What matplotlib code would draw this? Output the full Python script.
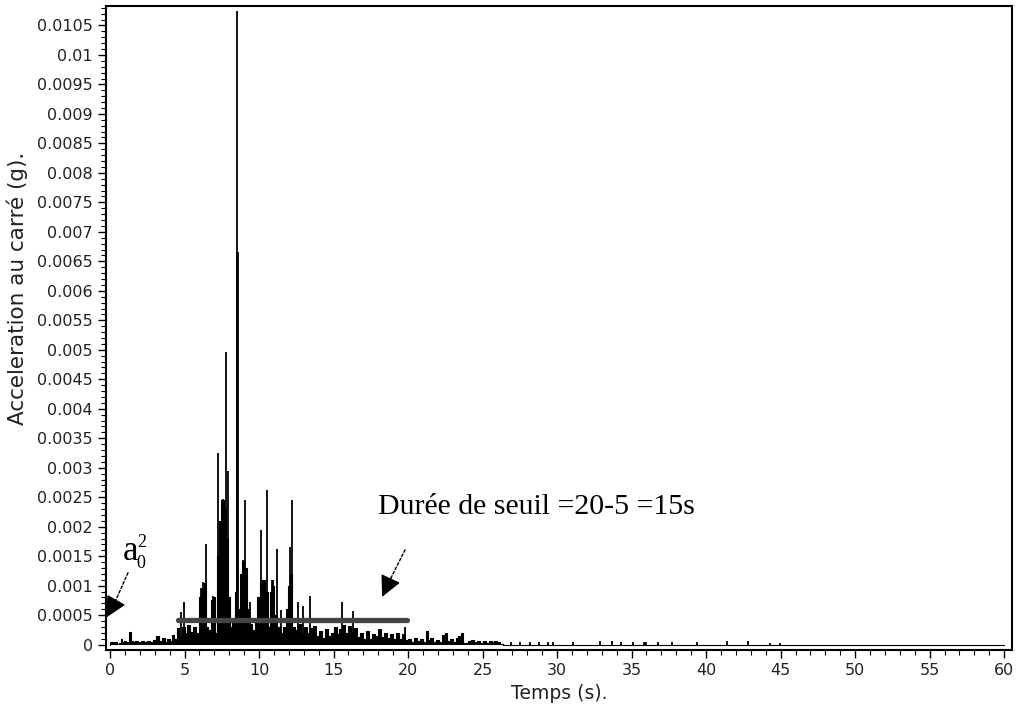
import numpy as np
import matplotlib
matplotlib.use("Agg")
from matplotlib import pyplot as plt
from matplotlib.patches import FancyArrowPatch
from matplotlib.ticker import MultipleLocator, FuncFormatter

# enveloppe du signal (partie dense), valeurs en 1e-4 g^2
t_env = [0.0, 0.05, 0.45, 0.5, 0.7, 0.78, 0.85, 1.0, 1.2, 1.34, 1.45, 1.6, 1.8, 2.0, 2.2,
         2.4, 2.6, 2.8, 3.0, 3.24, 3.4, 3.58, 3.75, 3.9, 4.1, 4.25, 4.4, 4.59, 4.7, 4.9,
         5.1, 5.3, 5.5, 5.7, 5.9, 6.05, 6.2, 6.35, 6.5, 6.7, 6.85, 7.0, 7.1, 7.25, 7.4,
         7.55, 7.7, 7.85, 7.95, 8.1, 8.3, 8.45, 8.65, 8.8, 8.95, 9.1, 9.25, 9.4, 9.6, 9.8,
         9.95, 10.15, 10.3, 10.5, 10.65, 10.8, 10.95, 11.1, 11.3, 11.5, 11.7, 11.9, 12.0,
         12.15, 12.3, 12.5, 12.7, 12.9, 13.1, 13.3, 13.5, 13.7, 13.9, 14.1, 14.3, 14.5,
         14.7, 14.9, 15.1, 15.3, 15.5, 15.7, 15.9, 16.1, 16.3, 16.5, 16.7, 16.9, 17.1,
         17.3, 17.5, 17.7, 17.9, 18.1, 18.3, 18.5, 18.7, 18.9, 19.1, 19.3, 19.5, 19.7,
         19.9, 20.1, 20.3, 20.5, 20.7, 20.9, 21.1, 21.25, 21.4, 21.6, 21.8, 22.0, 22.2,
         22.4, 22.5, 22.7, 22.9, 23.1, 23.3, 23.45, 23.6, 23.75, 23.9, 24.1, 24.3, 24.5,
         24.7, 24.9, 25.1, 25.3, 25.5, 25.7, 25.9, 26.1, 26.2, 26.5, 60.0]
a2_env = [0, 0.4, 0.4, 0.1, 0.3, 0.9, 0.4, 0.6, 0.5, 2.1, 0.7, 0.5, 0.7, 0.4, 0.6,
          0.5, 0.7, 0.5, 0.8, 1.5, 0.6, 1.1, 0.5, 1.0, 0.6, 1.7, 1.0, 2.8, 1.5, 3.0,
          2.0, 3.4, 2.2, 3.0, 2.0, 8.0, 9.5, 10.5, 3.0, 2.5, 7.5, 8.0, 2.0, 15.0, 21.0,
          24.5, 23.0, 18.0, 8.0, 3.0, 4.0, 9.0, 6.0, 12.0, 14.0, 13.0, 6.0, 3.5, 2.5, 4.0,
          8.0, 10.5, 11.0, 9.0, 3.0, 9.0, 10.0, 5.0, 3.0, 2.0, 3.0, 6.0, 10.0,
          12.0, 3.0, 2.5, 3.5, 2.0, 3.0, 2.0, 2.8, 3.2, 1.5, 2.4, 1.2, 2.6,
          1.5, 2.0, 3.0, 1.8, 2.6, 3.3, 2.0, 3.2, 2.2, 2.8, 1.3, 2.0, 1.0,
          2.4, 1.0, 1.8, 1.4, 2.6, 1.3, 2.0, 1.2, 1.8, 0.9, 2.0, 1.0, 1.8,
          0.8, 1.0, 0.5, 1.2, 0.6, 1.0, 0.5, 2.3, 0.8, 1.2, 0.5, 0.8, 0.4,
          1.6, 2.0, 0.6, 1.0, 0.4, 1.2, 1.5, 2.0, 0.3, 0.2, 0.6, 0.8, 0.4,
          0.7, 0.3, 0.6, 0.2, 0.6, 0.5, 0.7, 0.5, 0.1, 0.0, 0.0]

# pics isoles, valeurs en 1e-4 g^2
t_pk = [4.74, 4.97, 6.12, 6.27, 6.44, 6.89, 7.23, 7.56, 7.77, 7.94, 8.50, 8.53, 8.57,
        8.95, 9.04, 9.39, 10.13, 10.30, 10.52, 10.90, 10.96, 11.23, 11.50, 12.10, 12.19,
        12.60, 12.97, 13.42, 15.60, 16.29, 19.80,
        26.9, 27.5, 28.2, 28.8, 29.4, 29.7, 31.1, 32.9, 33.7, 34.3, 35.1, 35.8, 36.0,
        36.8, 37.7, 39.4, 41.4, 42.8, 44.3, 44.97]
a2_pk = [5.6, 7.2, 9.6, 10.7, 17.1, 8.2, 32.5, 24.7, 49.7, 29.5, 107.5, 66.5, 66.5,
         14.4, 24.5, 7.3, 19.5, 10.5, 26.3, 11.0, 11.0, 16.3, 5.9, 16.6, 24.5,
         7.2, 6.5, 8.2, 7.2, 5.7, 3.0,
         0.4, 0.4, 0.5, 0.4, 0.4, 0.4, 0.4, 0.6, 0.6, 0.4, 0.4, 0.4, 0.4,
         0.4, 0.4, 0.4, 0.6, 0.7, 0.3, 0.3]

seuil = 0.00041
t_debut, t_fin = 4.58, 19.95

t_env = np.array(t_env)
a2_env = np.array(a2_env) * 1e-4
t_pk = np.array(t_pk)
a2_pk = np.array(a2_pk) * 1e-4

fig = plt.figure(figsize=(10.17, 7.13), dpi=100)
ax = fig.add_axes([0.1042, 0.0884, 0.8905, 0.9032])

ax.fill_between(t_env, 0, a2_env, color="k", lw=0, step="mid")
ax.step(t_env, a2_env, where="mid", color="k", lw=0.8)
ax.vlines(t_pk, 0, a2_pk, color="k", lw=1.3)

# duree de seuil
ax.hlines(seuil, t_debut, t_fin, color="#444444", lw=3.8, capstyle="round", zorder=3)

ax.set_xlim(-0.27, 60.5)
ax.set_ylim(-0.00009, 0.01083)

ax.xaxis.set_major_locator(MultipleLocator(5))
ax.xaxis.set_minor_locator(MultipleLocator(1))
ax.yaxis.set_major_locator(MultipleLocator(0.0005))
ax.yaxis.set_minor_locator(MultipleLocator(0.0001))
ax.yaxis.set_major_formatter(FuncFormatter(lambda v, p: "0" if abs(v) < 1e-9 else "{:g}".format(round(v, 5))))

ax.tick_params(which="major", direction="out", length=6, width=1, labelsize=11.5,
               labelcolor="#222222")
ax.tick_params(which="minor", direction="out", length=3.5, width=0.8)
for s in ax.spines.values():
    s.set_linewidth(1.5)

ax.set_xlabel("Temps (s).", fontsize=13.5, color="#222222", labelpad=4)
ax.set_ylabel("Acceleration au carré (g).", fontsize=15.5, color="#222222")
ax.yaxis.set_label_coords(-0.086, 0.562)

serif = ["Liberation Serif", "DejaVu Serif"]
ax.text(18.0, 0.00221, "Durée de seuil =20-5 =15s", family=serif, fontsize=21.5)
ax.text(0.85, 0.00144, "a", family=serif, fontsize=25)
ax.text(1.8, 0.00166, "2", family=serif, fontsize=13)
ax.text(1.8, 0.00130, "0", family=serif, fontsize=13)

# fleches : tige en pointilles, tete pleine
for start, mid, tip in [((1.21, 0.00122), (0.33, 0.00072), (-0.25, 0.00046)),
                        ((19.8, 0.00161), (18.85, 0.00113), (18.26, 0.00081))]:
    ax.add_patch(FancyArrowPatch(start, mid, arrowstyle="-", color="k", lw=1,
                                 linestyle=(0, (2, 1.5)), shrinkA=0, shrinkB=0, zorder=4))
    ax.add_patch(FancyArrowPatch(mid, tip, arrowstyle="-|>,head_length=13,head_width=6.5",
                                 mutation_scale=1, color="k", lw=1,
                                 shrinkA=0, shrinkB=0, zorder=4))

plt.savefig("out.png", dpi=100)
